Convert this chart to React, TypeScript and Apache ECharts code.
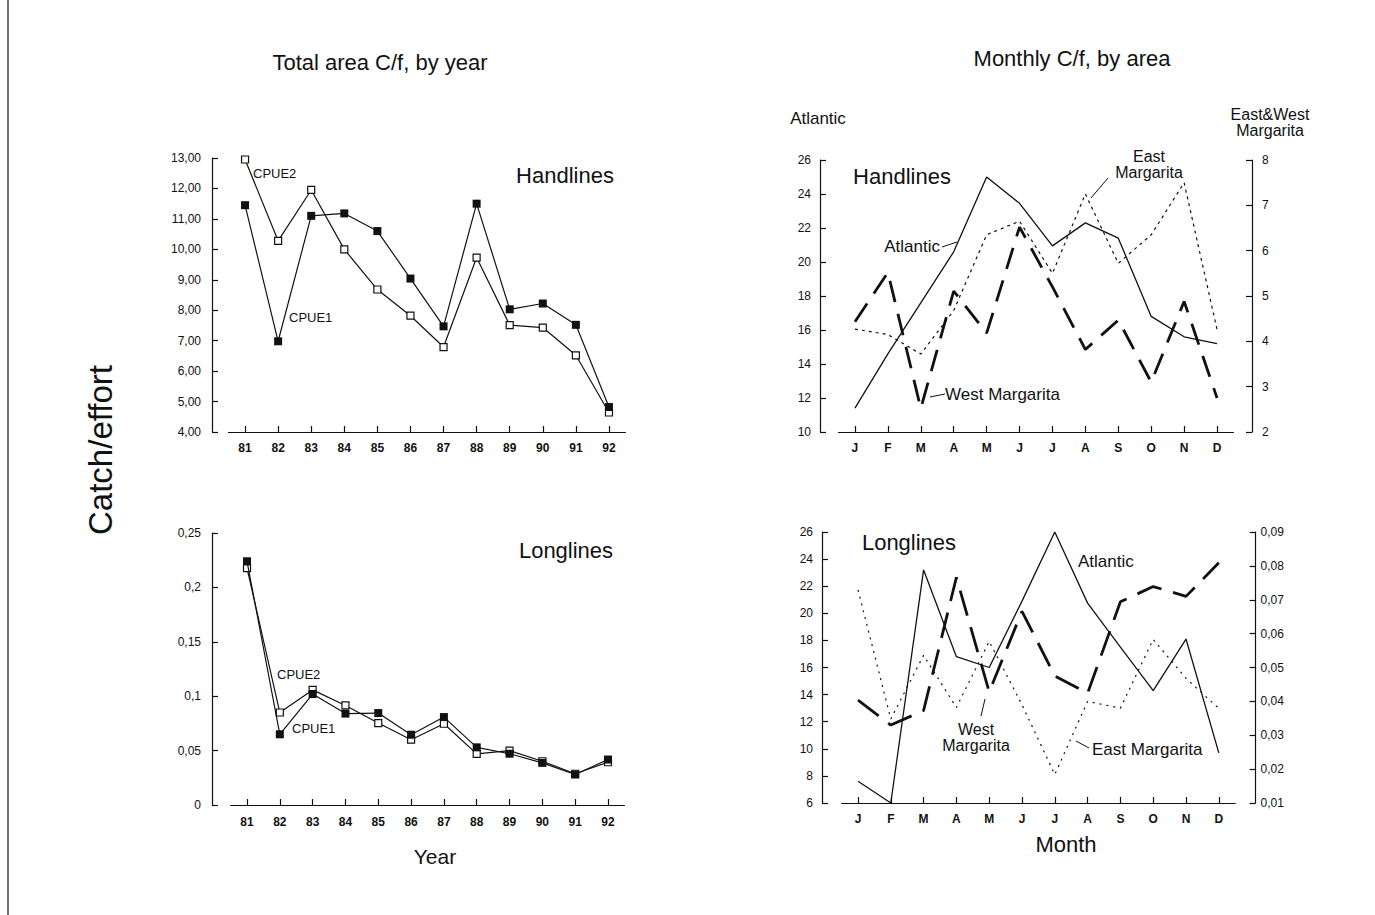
import React, { useEffect, useRef } from "react";
import * as echarts from "echarts";

// ---------- data ----------
const years = ["81", "82", "83", "84", "85", "86", "87", "88", "89", "90", "91", "92"];
const months = ["J", "F", "M", "A", "M", "J", "J", "A", "S", "O", "N", "D"];

// Total area C/f by year – Handlines
const handCpue1 = [11.45, 6.98, 11.1, 11.18, 10.6, 9.04, 7.47, 11.5, 8.03, 8.22, 7.52, 4.82];
const handCpue2 = [12.95, 10.28, 11.95, 10.0, 8.68, 7.82, 6.79, 9.73, 7.51, 7.43, 6.52, 4.64];
// Total area C/f by year – Longlines
const longCpue1 = [0.224, 0.065, 0.102, 0.084, 0.0845, 0.0646, 0.0808, 0.053, 0.0471, 0.0387, 0.028, 0.0418];
const longCpue2 = [0.2177, 0.085, 0.1058, 0.0915, 0.0753, 0.06, 0.0747, 0.047, 0.05, 0.0402, 0.0287, 0.0393];

// Monthly C/f by area – Handlines
const handAtlantic = [11.4, 14.6, 17.6, 20.6, 25.0, 23.45, 20.95, 22.3, 21.4, 16.8, 15.6, 15.2];
const handEast = [4.27, 4.15, 3.72, 4.68, 6.35, 6.65, 5.5, 7.25, 5.72, 6.35, 7.5, 4.26];
const handWest = [4.43, 5.52, 2.52, 5.11, 4.18, 6.52, 5.2, 3.82, 4.47, 3.1, 4.88, 2.75];
// Monthly C/f by area – Longlines
const longAtlantic = [7.6, 6.0, 23.2, 16.8, 16.0, 20.9, 26.0, 20.75, 17.5, 14.3, 18.1, 9.7];
const longEast = [0.0729, 0.0348, 0.0536, 0.0382, 0.0577, 0.039, 0.0184, 0.04, 0.038, 0.0583, 0.0468, 0.0379];
const longWest = [0.0404, 0.033, 0.0373, 0.0766, 0.0428, 0.0666, 0.0475, 0.0424, 0.0694, 0.0739, 0.071, 0.0809];

// tick labels
const handYearTicks = ["4,00", "5,00", "6,00", "7,00", "8,00", "9,00", "10,00", "11,00", "12,00", "13,00"];
const longYearTicks = ["0", "0,05", "0,1", "0,15", "0,2", "0,25"];
const atlHandTicks = ["10", "12", "14", "16", "18", "20", "22", "24", "26"];
const margHandTicks = ["2", "3", "4", "5", "6", "7", "8"];
const atlLongTicks = ["6", "8", "10", "12", "14", "16", "18", "20", "22", "24", "26"];
const margLongTicks = ["0,01", "0,02", "0,03", "0,04", "0,05", "0,06", "0,07", "0,08", "0,09"];

const FONT = "'Liberation Sans', Arial, Helvetica, sans-serif";
const INK = "#111";

function makeY(grid: number, min: number, max: number, interval: number, ticks: string[], opts: any = {}) {
  return {
    type: "value",
    gridIndex: grid,
    min,
    max,
    interval,
    position: opts.position || "left",
    offset: opts.offset || 0,
    axisLine: { show: true, lineStyle: { color: INK, width: 1.2 } },
    axisTick: { show: true, inside: true, length: 6, lineStyle: { color: INK, width: 1.2 } },
    splitLine: { show: false },
    axisLabel: {
      color: INK,
      fontFamily: FONT,
      fontSize: opts.fontSize || 12,
      margin: opts.margin ?? 10,
      formatter: (_v: number, i: number) => ticks[i] ?? "",
    },
  };
}

function makeX(grid: number, data: string[], opts: any = {}) {
  return {
    type: "category",
    gridIndex: grid,
    data,
    boundaryGap: true,
    axisLine: { show: true, lineStyle: { color: INK, width: 1.2 } },
    axisTick: { show: true, inside: true, alignWithLabel: true, length: 6, lineStyle: { color: INK, width: 1.2 } },
    splitLine: { show: false },
    axisLabel: {
      color: INK,
      fontFamily: FONT,
      fontSize: opts.fontSize || 12,
      fontWeight: "bold",
      margin: opts.margin ?? 10,
      interval: 0,
    },
  };
}

function txt(text: string, x: number, y: number, size: number, align = "left", extra: any = {}) {
  return {
    type: "text",
    x,
    y,
    silent: true,
    ...extra,
    style: {
      text,
      fill: INK,
      fontFamily: FONT,
      fontSize: size,
      align,
      verticalAlign: "middle",
      ...(extra.style || {}),
    },
  };
}

function ln(x1: number, y1: number, x2: number, y2: number, w = 1) {
  return {
    type: "line",
    silent: true,
    shape: { x1, y1, x2, y2 },
    style: { stroke: INK, lineWidth: w },
  };
}

export default function App() {
  const ref = useRef<HTMLDivElement>(null);

  useEffect(() => {
    if (!ref.current) return;
    const chart = echarts.init(ref.current, undefined, { renderer: "svg" });

    const cpueLine = { color: INK, width: 1.2 };
    const option: any = {
      animation: false,
      backgroundColor: "#ffffff",
      grid: [
        { left: 228.5, top: 158, width: 397, height: 274, outerBoundsMode: "none" },
        { left: 230.6, top: 533, width: 393.8, height: 272, outerBoundsMode: "none" },
        { left: 838.5, top: 160, width: 395, height: 272, outerBoundsMode: "none" },
        { left: 841.6, top: 532, width: 393.6, height: 271, outerBoundsMode: "none" },
      ],
      xAxis: [
        makeX(0, years, { margin: 10 }),
        makeX(1, years, { margin: 11 }),
        makeX(2, months, { margin: 10 }),
        makeX(3, months, { margin: 10 }),
      ],
      yAxis: [
        makeY(0, 4, 13, 1, handYearTicks, { offset: 16.5, margin: 11 }),
        makeY(1, 0, 0.25, 0.05, longYearTicks, { offset: 18.6, margin: 11 }),
        makeY(2, 10, 26, 2, atlHandTicks, { offset: 18.5, margin: 9 }),
        makeY(2, 2, 8, 1, margHandTicks, { position: "right", offset: 18.5, margin: 10 }),
        makeY(3, 6, 26, 2, atlLongTicks, { offset: 19.6, margin: 9 }),
        makeY(3, 0.01, 0.09, 0.01, margLongTicks, { position: "right", offset: 20.4, margin: 5 }),
      ],
      series: [
        {
          name: "CPUE2 handlines",
          type: "line",
          xAxisIndex: 0,
          yAxisIndex: 0,
          data: handCpue2,
          symbol: "rect",
          symbolSize: 7,
          lineStyle: cpueLine,
          itemStyle: { color: "#fff", borderColor: INK, borderWidth: 1.2 },
          z: 3,
        },
        {
          name: "CPUE1 handlines",
          type: "line",
          xAxisIndex: 0,
          yAxisIndex: 0,
          data: handCpue1,
          symbol: "rect",
          symbolSize: 8,
          lineStyle: cpueLine,
          itemStyle: { color: INK },
          z: 4,
        },
        {
          name: "CPUE2 longlines",
          type: "line",
          xAxisIndex: 1,
          yAxisIndex: 1,
          data: longCpue2,
          symbol: "rect",
          symbolSize: 7,
          lineStyle: cpueLine,
          itemStyle: { color: "#fff", borderColor: INK, borderWidth: 1.2 },
          z: 3,
        },
        {
          name: "CPUE1 longlines",
          type: "line",
          xAxisIndex: 1,
          yAxisIndex: 1,
          data: longCpue1,
          symbol: "rect",
          symbolSize: 8,
          lineStyle: cpueLine,
          itemStyle: { color: INK },
          z: 4,
        },
        {
          name: "Atlantic handlines",
          type: "line",
          xAxisIndex: 2,
          yAxisIndex: 2,
          data: handAtlantic,
          symbol: "none",
          lineStyle: { color: INK, width: 1.3 },
        },
        {
          name: "East Margarita handlines",
          type: "line",
          xAxisIndex: 2,
          yAxisIndex: 3,
          data: handEast,
          symbol: "none",
          lineStyle: { color: INK, width: 1.2, type: [3, 4] },
        },
        {
          name: "West Margarita handlines",
          type: "line",
          xAxisIndex: 2,
          yAxisIndex: 3,
          data: handWest,
          symbol: "none",
          lineStyle: { color: INK, width: 2.8, type: [22, 12] },
        },
        {
          name: "Atlantic longlines",
          type: "line",
          xAxisIndex: 3,
          yAxisIndex: 4,
          data: longAtlantic,
          symbol: "none",
          lineStyle: { color: INK, width: 1.3 },
        },
        {
          name: "East Margarita longlines",
          type: "line",
          xAxisIndex: 3,
          yAxisIndex: 5,
          data: longEast,
          symbol: "none",
          lineStyle: { color: INK, width: 1.2, type: [2, 5] },
        },
        {
          name: "West Margarita longlines",
          type: "line",
          xAxisIndex: 3,
          yAxisIndex: 5,
          data: longWest,
          symbol: "none",
          lineStyle: { color: INK, width: 2.8, type: [26, 12] },
        },
      ],
      graphic: [
        // frame edge
        ln(8, 0, 8, 915, 1.2),
        // titles
        txt("Total area C/f, by year", 380, 62, 22, "center"),
        txt("Monthly C/f, by area", 1072, 58, 22, "center"),
        txt("Catch/effort", 100, 450, 33, "center", { rotation: Math.PI / 2 }),
        txt("Year", 435, 856, 21, "center"),
        txt("Month", 1066, 844, 22, "center"),
        // panel labels
        txt("Handlines", 565, 175, 22, "center"),
        txt("Longlines", 566, 550, 22, "center"),
        txt("Handlines", 902, 176, 22, "center"),
        txt("Longlines", 909, 542, 22, "center"),
        // left panel annotations
        txt("CPUE2", 253, 173, 13),
        txt("CPUE1", 289, 317, 13),
        txt("CPUE2", 277, 674, 13),
        txt("CPUE1", 292, 728, 13),
        // right panel axis titles
        txt("Atlantic", 818, 118, 17, "center"),
        txt("East&West\nMargarita", 1270, 122, 16, "center", { style: { lineHeight: 16 } }),
        // right top annotations
        txt("Atlantic", 940, 246, 17, "right"),
        ln(942, 247, 957, 242),
        txt("East\nMargarita", 1149, 164, 16, "center", { style: { lineHeight: 16 } }),
        ln(1108, 178, 1091, 198),
        txt("West Margarita", 945, 394, 17),
        ln(930, 397, 945, 394),
        // right bottom annotations
        txt("Atlantic", 1078, 561, 17),
        txt("West\nMargarita", 976, 737, 16, "center", { style: { lineHeight: 16 } }),
        ln(981, 716, 985, 699),
        txt("East Margarita", 1092, 749, 17),
        ln(1076, 741, 1089, 748),
      ],
    };

    chart.setOption(option);
    return () => chart.dispose();
  }, []);

  return (
    <div
      ref={ref}
      style={{ position: "absolute", left: 0, top: 0, width: 1375, height: 915, background: "#fff" }}
    />
  );
}
